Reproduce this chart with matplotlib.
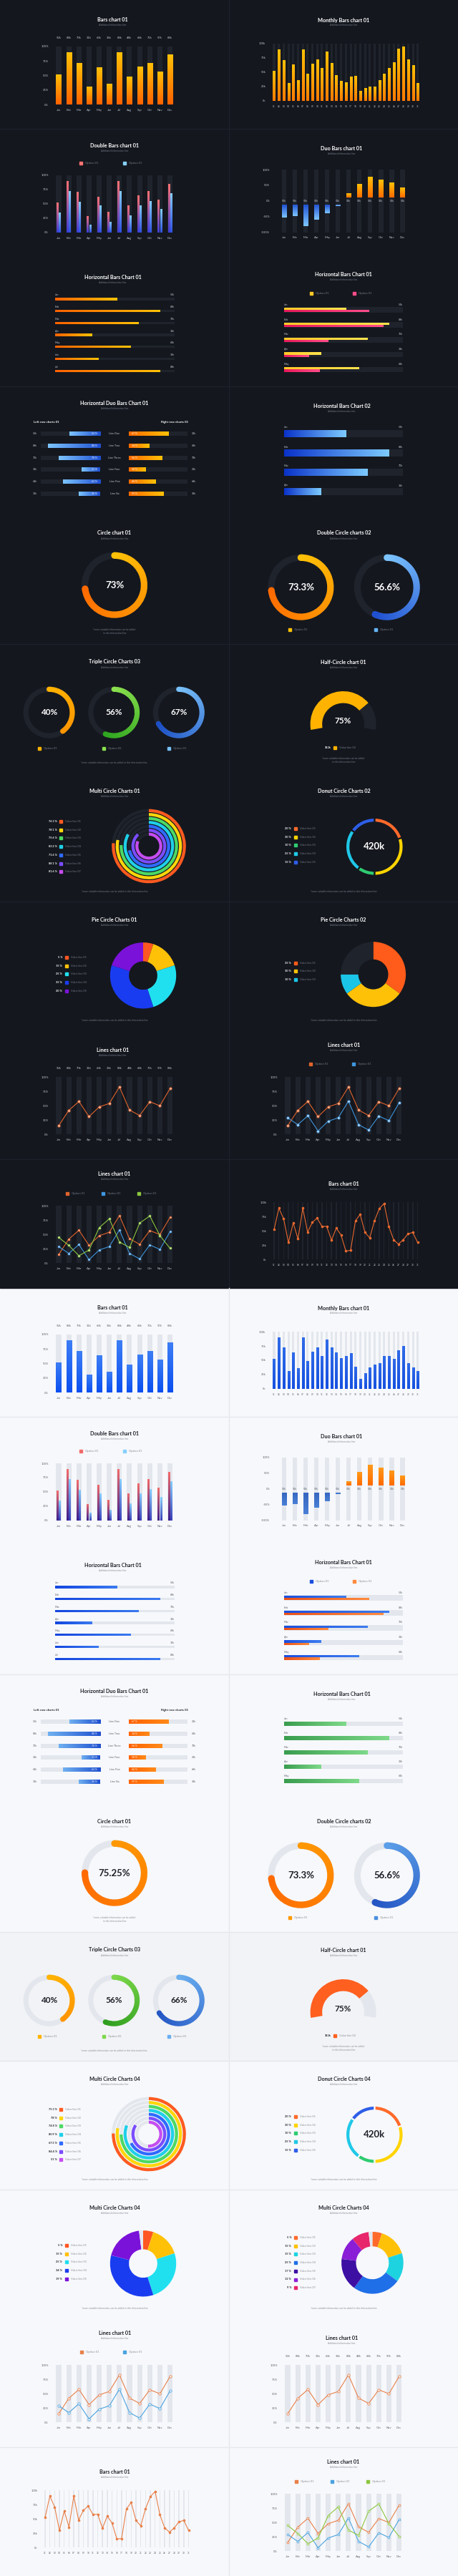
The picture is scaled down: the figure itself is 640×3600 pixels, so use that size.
import numpy as np
import matplotlib
matplotlib.use("Agg")
import matplotlib.pyplot as plt
from matplotlib.colors import LinearSegmentedColormap
from matplotlib.lines import Line2D
from matplotlib.patches import Rectangle, Circle

plt.rcParams["font.family"] = ["Lato", "DejaVu Sans"]

W, H = 640, 3600
fig = plt.figure(figsize=(W / 100, H / 100), dpi=100)

# ---------------- data ----------------
MONTHS = ["Jan", "Feb", "Mar", "Apr", "May", "Jun", "Jul", "Aug", "Sep", "Oct", "Nov", "Dec"]
DAYS = [f"{d:02d}" for d in range(1, 32)]
PCT_TICKS = [0, 25, 50, 75, 100]
PCT_LABELS = ["0%", "25%", "50%", "75%", "100%"]
K_LABELS = ["0k", "25k", "50k", "75k", "100k"]

BAR_VALUES = [52, 90, 71, 31, 64, 36, 90, 48, 65, 72, 57, 86]
BAR_LABELS = ["52k", "88k", "70k", "31k", "63k", "36k", "88k", "48k", "64k", "71k", "57k", "84k"]

MONTHLY_DARK = [52.5, 90, 71, 31, 64, 36, 90, 48, 65, 72.5, 58, 86, 66, 45, 35, 32, 43, 44,
                18, 22.5, 24.5, 25, 36, 48, 58, 67.5, 91, 95.5, 73, 62.5, 31]
MONTHLY_LIGHT = [52.5, 90, 72, 31, 64, 36, 90, 49, 65, 72.5, 58, 86, 72, 64, 54, 58, 63, 39,
                 18, 27, 38, 43, 45, 57, 58, 52, 68, 75, 45, 38, 31]

DOUBLE_A = [52, 90, 71, 29, 63, 36, 90, 48, 65, 72, 57, 85]
DOUBLE_B = [35, 73, 54, 14, 47, 19, 73, 30, 48, 55, 41, 69]

DUO_VALUES = [-52, -49, -81, -60, -38, -17, 25, 54, 78, 69, 59, 42]
DUO_LABEL = "52k"

HBAR_MONTHS = MONTHS[:7]
HBAR_VALUES = [52, 88, 70, 31, 63, 36, 88]
HBAR_LABELS = ["52k", "88k", "70k", "31k", "63k", "36k", "88k"]

HDOUBLE_A = [52, 88, 70, 31, 63]
HDOUBLE_B = [71, 83, 37, 21, 30]

HDUO_LINES = ["Line One", "Line Two", "Line Three", "Line Four", "Line Five", "Line Six"]
HDUO_LEFT = [52, 88, 70, 31, 63, 36]
HDUO_RIGHT = [67, 34, 56, 28, 46, 59]
HDUO_LEFT_LABELS = ["52k", "88k", "70k", "31k", "64k", "36k"]
HDUO_RIGHT_LABELS = ["22k", "68k", "78k", "21k", "69k", "38k"]

HBAR2_VALUES = [52, 88, 70, 31, 63]
HBAR2_LABELS = ["52k", "88k", "70k", "31k", "63k"]

CIRCLE_DARK = 73
CIRCLE_LIGHT = 75.25
DOUBLE_CIRCLE = [73.3, 56.6]
TRIPLE_DARK = [40, 56, 67]
TRIPLE_LIGHT = [40, 56, 66]
TRIPLE_NAMES = ["Option 01", "Option 02", "Option 01"]
HALF_VALUE = 75
HALF_LABEL = "352k"

MULTI_DARK = [76.3, 78.1, 75.6, 83.2, 71.6, 88.1, 81.6]
MULTI_LIGHT = [75.3, 78, 74.8, 80.9, 67.5, 84.4, 51]
DONUT_SHARES = [20, 30, 10, 25, 15]
DONUT_TOTAL = "420k"
PIE5_DARK = [5, 15, 25, 35, 20]
PIE5_LIGHT = [5, 15, 25, 34, 19]
PIE3 = [35, 30, 10]
PIE7 = [5, 15, 15, 25, 17, 12, 9]

LINE_A = [15, 42, 57.5, 31, 48, 54, 83, 42.5, 33, 57, 50, 80]
LINE_B = [29, 17, 32.5, 6, 23, 29, 58, 17, 7.5, 32, 24, 55]
LINE_C = [45, 31, 13, 23, 62, 77.5, 37, 27.5, 70, 82.5, 48, 26]
LINE31 = [52.5, 90, 71, 30, 64, 36, 90, 48, 65, 72.5, 58, 58, 34, 55, 43, 15, 16, 67.5, 79,
          47.5, 38, 68, 89, 98, 57.5, 34.5, 27, 34.5, 45, 47.5, 30]

SUBTITLE = "Additional information line"
FOOT = "*more valuable information can be added in this information line"
FOOT2 = "*more valuable information can be added\nin this information line"

# ---------------- themes ----------------
DARK = dict(bg="#14171e", track="#1f232c", title="#ffffff", sub="#737985", tick="#c3c7cf",
            rule="#1d2129")
LIGHT = dict(bg="#f7f8fb", track="#e3e7ed", title="#1d2028", sub="#8a8f98", tick="#5d626c",
             rule="#e6e8ee")

MULTI_COLORS = ["#ff5a1f", "#ffd60a", "#4cd964", "#1fd0e8", "#2f6bff", "#7a4dff", "#c64cf0"]
DONUT_COLORS = ["#ff6a2b", "#ffd400", "#2ecc71", "#1fc8e8", "#2d5ee8"]
PIE5_COLORS = ["#ff5722", "#ffc107", "#20e0f0", "#1a3cf0", "#7b12d9"]
PIE3_COLORS = ["#ff5b1a", "#ffc107", "#1bc5e8"]
PIE7_COLORS = ["#ff6a2b", "#ffc107", "#1dd3e0", "#1f6fe8", "#3d0fa3", "#8a1ed6", "#e8266b"]


def make_cmap(colors):
    return LinearSegmentedColormap.from_list("g", colors)


def px_axes(x, y, w, h, th):
    ax = fig.add_axes([x / W, 1 - (y + h) / H, w / W, h / H])
    ax.set_facecolor("none")
    for s in ax.spines.values():
        s.set_visible(False)
    ax.tick_params(length=0, labelsize=3, colors=th["tick"])
    return ax


def circ_axes(cx, cy, r, pad=1.1):
    s = 2 * r * pad
    ax = fig.add_axes([(cx - s / 2) / W, 1 - (cy + s / 2) / H, s / W, s / H])
    ax.set_axis_off()
    return ax


def finish_circ(ax, pad=1.1):
    ax.set_xlim(-pad, pad)
    ax.set_ylim(-pad, pad)
    ax.set_aspect("equal")


def text(x, y, s, size, color, **kw):
    kw.setdefault("ha", "center")
    kw.setdefault("va", "center")
    fig.text(x / W, 1 - y / H, s, fontsize=size, color=color, **kw)


def dot(x, y, color, ms=2.3):
    fig.add_artist(Line2D([x / W], [1 - y / H], marker="s", ms=ms, color=color, lw=0,
                          transform=fig.transFigure))


def header(x0, y0, th, title, cx, ty):
    text(x0 + cx, y0 + ty, title, 5.2, th["title"], weight="bold")
    text(x0 + cx, y0 + ty + 7.5, SUBTITLE, 2.3, th["sub"])


def legend_item(x, y, color, label, th):
    dot(x, y, color)
    text(x + 6, y, label, 3, th["sub"], ha="left")


def value_legend(x0, y0, th, top, texts, colors, vx=87, dx=93, lx=99):
    for i, (t, c) in enumerate(zip(texts, colors)):
        y = y0 + top + i * 11.7
        text(x0 + vx, y, t, 2.8, th["title"], ha="right", weight="bold")
        dot(x0 + dx, y, c)
        text(x0 + lx, y, f"Value line {i + 1:02d}", 2.8, th["sub"], ha="left")


def grad_patch(ax, patch, colors, horizontal=False):
    x, y = patch.get_x(), patch.get_y()
    w, h = patch.get_width(), patch.get_height()
    if w == 0 or h == 0:
        return
    x0, x1 = sorted((x, x + w))
    y0, y1 = sorted((y, y + h))
    ramp = np.linspace(0, 1, 64)
    img = ramp.reshape(1, -1) if horizontal else ramp.reshape(-1, 1)
    im = ax.imshow(img, cmap=make_cmap(colors), extent=(x0, x1, y0, y1), origin="lower",
                   aspect="auto", interpolation="bilinear", zorder=patch.get_zorder(),
                   vmin=0, vmax=1)
    im.set_clip_path(patch)
    patch.set_facecolor("none")


def conic(ax, patch, colors, frac, r=1.1):
    g = np.linspace(-r, r, 300)
    X, Y = np.meshgrid(g, g)
    ang = (90 - np.degrees(np.arctan2(Y, X))) % 360
    t = np.clip(ang / (360 * max(frac, 1e-3)), 0, 1)
    im = ax.imshow(t, cmap=make_cmap(colors), extent=(-r, r, -r, r), origin="lower",
                   interpolation="bilinear", vmin=0, vmax=1, zorder=3)
    im.set_clip_path(patch)


def ring(ax, value, colors, th, width=0.2, radius=1.0):
    ax.pie([100], radius=radius, colors=[th["track"]], startangle=90,
           wedgeprops=dict(width=width, linewidth=0))
    wedges, _ = ax.pie([value, 100 - value], radius=radius, colors=["none", "none"],
                       startangle=90, counterclock=False,
                       wedgeprops=dict(width=width, linewidth=0))
    conic(ax, wedges[0], colors, value / 100)
    # rounded ends of the arc
    mid = radius - width / 2
    for ang, c in ((90.0, colors[0]), (90 - 3.6 * value, colors[-1])):
        a = np.radians(ang)
        ax.add_patch(Circle((mid * np.cos(a), mid * np.sin(a)), width / 2, color=c,
                            lw=0, zorder=3.5))


# ---------------- bar panels ----------------
def bars_chart(x0, y0, th, values, labels, colors):
    header(x0, y0, th, "Bars chart 01", 157.5, 28)
    n = len(values)
    left, right = 82, 237.5
    step = (right - left) / (n - 1)
    ax = px_axes(x0 + left - step / 2, y0 + 65, right - left + step, 81, th)
    xs = np.arange(n)
    ax.bar(xs, np.full(n, 100), width=0.5, color=th["track"], zorder=1)
    for b in ax.bar(xs, values, width=0.5, zorder=2):
        grad_patch(ax, b, colors)
    ax.set_xticks(xs, MONTHS)
    ax.set_yticks(PCT_TICKS, PCT_LABELS)
    ax.tick_params(axis="x", pad=4)
    ax.tick_params(axis="y", pad=5)
    for i, lb in enumerate(labels):
        ax.annotate(lb, (i, 1), xycoords=("data", "axes fraction"), xytext=(0, 8.5),
                    textcoords="offset points", ha="center", va="center", fontsize=3,
                    color=th["tick"])
    ax.set_xlim(-0.5, n - 0.5)
    ax.set_ylim(0, 100)


def monthly_chart(x0, y0, th, values, colors):
    header(x0, y0, th, "Monthly Bars chart 01", 160, 28)
    n = len(values)
    left, right = 63, 263.7
    step = (right - left) / (n - 1)
    ax = px_axes(x0 + left - step / 2, y0 + 61, right - left + step, 80, th)
    xs = np.arange(n)
    ax.bar(xs, np.full(n, 100), width=0.45, color=th["track"], zorder=1)
    for b in ax.bar(xs, values, width=0.45, zorder=2):
        grad_patch(ax, b, colors)
    ax.set_xticks(xs, DAYS)
    ax.set_yticks(PCT_TICKS, K_LABELS)
    ax.tick_params(axis="x", pad=4, labelsize=2.3)
    ax.tick_params(axis="y", pad=6)
    ax.set_xlim(-0.5, n - 0.5)
    ax.set_ylim(0, 100)


def double_chart(x0, y0, th, colors_a, colors_b):
    header(x0, y0, th, "Double Bars chart 01", 160, 23)
    legend_item(x0 + 113, y0 + 48, colors_a[-1], "Option 01", th)
    legend_item(x0 + 174, y0 + 48, colors_b[-1], "Option 01", th)
    n = len(DOUBLE_A)
    left, right = 82, 237.5
    step = (right - left) / (n - 1)
    ax = px_axes(x0 + left - step / 2, y0 + 65, right - left + step, 80, th)
    xs = np.arange(n)
    ax.bar(xs, np.full(n, 100), width=0.5, color=th["track"], zorder=1)
    for b in ax.bar(xs - 0.11, DOUBLE_A, width=0.2, zorder=2):
        grad_patch(ax, b, colors_a)
    for b in ax.bar(xs + 0.11, DOUBLE_B, width=0.2, zorder=2):
        grad_patch(ax, b, colors_b)
    ax.set_xticks(xs, MONTHS)
    ax.set_yticks(PCT_TICKS, PCT_LABELS)
    ax.tick_params(axis="x", pad=4)
    ax.tick_params(axis="y", pad=5)
    ax.set_xlim(-0.5, n - 0.5)
    ax.set_ylim(0, 100)


def duo_chart(x0, y0, th, neg_colors, pos_colors):
    header(x0, y0, th, "Duo Bars chart 01", 157.6, 27)
    n = len(DUO_VALUES)
    left, right = 77.1, 242.4
    step = (right - left) / (n - 1)
    ax = px_axes(x0 + left - step / 2, y0 + 57, right - left + step, 87.7, th)
    xs = np.arange(n)
    ax.bar(xs, np.full(n, 200), bottom=-100, width=0.42, color=th["track"], zorder=1)
    gap = 12
    for x, v in zip(xs, DUO_VALUES):
        if v >= 0:
            b = ax.bar(x, v - gap, bottom=gap, width=0.42, zorder=2)[0]
            grad_patch(ax, b, pos_colors)
        else:
            b = ax.bar(x, v + gap, bottom=-gap, width=0.42, zorder=2)[0]
            grad_patch(ax, b, neg_colors)
        ax.text(x, 0, DUO_LABEL, ha="center", va="center", fontsize=2.6, color=th["tick"],
                zorder=4)
    ax.set_xticks(xs, MONTHS)
    ax.set_yticks([100, 50, 0, -50, -100], ["100%", "50%", "0%", "-50%", "-100%"])
    ax.tick_params(axis="x", pad=4)
    ax.tick_params(axis="y", pad=9)
    ax.set_xlim(-0.5, n - 0.5)
    ax.set_ylim(-100, 100)


def hbars_chart(x0, y0, th, colors):
    header(x0, y0, th, "Horizontal Bars Chart 01", 157.5, 27.7)
    n = len(HBAR_VALUES)
    step = 16.7
    ax = px_axes(x0 + 76.7, y0 + 58 - step / 2, 167, step * n, th)
    ys = np.arange(n)
    ax.barh(ys, np.full(n, 100), height=0.2, color=th["track"], zorder=1)
    for b in ax.barh(ys, HBAR_VALUES, height=0.2, zorder=2):
        grad_patch(ax, b, colors, horizontal=True)
    for i in ys:
        ax.text(0, i - 0.33, HBAR_MONTHS[i], ha="left", va="center", fontsize=2.7,
                color=th["tick"])
        ax.text(100, i - 0.33, HBAR_LABELS[i], ha="right", va="center", fontsize=2.7,
                color=th["tick"])
    ax.set_xticks([])
    ax.set_yticks([])
    ax.set_xlim(0, 100)
    ax.set_ylim(n - 0.5, -0.5)


def hbars_double(x0, y0, th, colors_a, colors_b):
    header(x0, y0, th, "Horizontal Bars Chart 01", 160.4, 23.7)
    legend_item(x0 + 115, y0 + 50, colors_a[0], "Option 01", th)
    legend_item(x0 + 175, y0 + 50, colors_b[-1], "Option 01", th)
    n = len(HDOUBLE_A)
    step = 20.8
    ax = px_axes(x0 + 76.7, y0 + 73.2 - step / 2, 166.3, step * n, th)
    ys = np.arange(n)
    ax.barh(ys, np.full(n, 100), height=0.36, color=th["track"], zorder=1)
    for b in ax.barh(ys - 0.075, HDOUBLE_A, height=0.15, zorder=2):
        grad_patch(ax, b, colors_a, horizontal=True)
    for b in ax.barh(ys + 0.075, HDOUBLE_B, height=0.15, zorder=2):
        grad_patch(ax, b, colors_b, horizontal=True)
    for i in ys:
        ax.text(0, i - 0.36, HBAR_MONTHS[i], ha="left", va="center", fontsize=2.7,
                color=th["tick"])
        ax.text(100, i - 0.36, HBAR_LABELS[i], ha="right", va="center", fontsize=2.7,
                color=th["tick"])
    ax.set_xticks([])
    ax.set_yticks([])
    ax.set_xlim(0, 100)
    ax.set_ylim(n - 0.5, -0.5)


def hduo_chart(x0, y0, th, left_colors, right_colors):
    header(x0, y0, th, "Horizontal Duo Bars Chart 01", 160, 23.3)
    text(x0 + 47, y0 + 50, "Left row charts 01", 3.2, th["title"], ha="left", weight="bold")
    text(x0 + 225, y0 + 50, "Right row charts 01", 3.2, th["title"], ha="left", weight="bold")
    n = len(HDUO_LEFT)
    step = 16.7
    top = 66.3
    ys = np.arange(n)
    axl = px_axes(x0 + 57, y0 + top - step / 2, 83, step * n, th)
    axl.barh(ys, np.full(n, 100), height=0.36, color=th["track"], zorder=1)
    for b in axl.barh(ys, HDUO_LEFT, height=0.36, zorder=2):
        grad_patch(axl, b, left_colors, horizontal=True)
    axr = px_axes(x0 + 180, y0 + top - step / 2, 82.4, step * n, th)
    axr.barh(ys, np.full(n, 100), height=0.36, color=th["track"], zorder=1)
    for b in axr.barh(ys, HDUO_RIGHT, height=0.36, zorder=2):
        grad_patch(axr, b, right_colors, horizontal=True)
    for i in ys:
        axl.text(5, i, f"{HDUO_LEFT[i]} %", ha="right", va="center", fontsize=2.5,
                 color="white", zorder=5)
        axr.text(5, i, f"{HDUO_RIGHT[i]} %", ha="left", va="center", fontsize=2.5,
                 color="white", zorder=5)
        y = y0 + top + i * step
        text(x0 + 49, y, HDUO_LEFT_LABELS[i], 2.7, th["tick"])
        text(x0 + 160, y, HDUO_LINES[i], 2.7, th["tick"])
        text(x0 + 270.6, y, HDUO_RIGHT_LABELS[i], 2.7, th["tick"])
    for a in (axl, axr):
        a.set_xticks([])
        a.set_yticks([])
        a.set_ylim(n - 0.5, -0.5)
    axl.set_xlim(100, 0)
    axr.set_xlim(0, 100)


def hbars_thick(x0, y0, th, values, colors, title, top, step, bar_px):
    header(x0, y0, th, title, 157.6, 27.7)
    n = len(values)
    ax = px_axes(x0 + 76.7, y0 + top - step / 2, 166.3, step * n, th)
    ys = np.arange(n)
    hgt = bar_px / step
    ax.barh(ys, np.full(n, 100), height=hgt, color=th["track"], zorder=1)
    for b in ax.barh(ys, values, height=hgt, zorder=2):
        grad_patch(ax, b, colors, horizontal=True)
    off = (bar_px / 2 + 3.5) / step
    for i in ys:
        ax.text(0, i - off, MONTHS[i], ha="left", va="center", fontsize=2.7, color=th["tick"])
        ax.text(100, i - off, HBAR2_LABELS[i], ha="right", va="center", fontsize=2.7,
                color=th["tick"])
    ax.set_xticks([])
    ax.set_yticks([])
    ax.set_xlim(0, 100)
    ax.set_ylim(n - 0.5, -0.5)


# ---------------- circle panels ----------------
def circle_panel(x0, y0, th, value, label, colors):
    header(x0, y0, th, "Circle chart 01", 160, 25)
    ax = circ_axes(x0 + 160, y0 + 97.7, 46)
    ring(ax, value, colors, th, width=0.2)
    ax.text(0, 0, label, ha="center", va="center", fontsize=9.5, color=th["title"],
            weight="bold")
    finish_circ(ax)
    text(x0 + 160, y0 + 162.5, FOOT2, 2.3, th["sub"], linespacing=1.5)


def double_circle(x0, y0, th, colors_list, legend_colors):
    header(x0, y0, th, "Double Circle charts 02", 160.4, 25)
    for cx, v, cols, lc in zip([100.4, 220.8], DOUBLE_CIRCLE, colors_list, legend_colors):
        ax = circ_axes(x0 + cx, y0 + 100.7, 46)
        ring(ax, v, cols, th, width=0.2)
        ax.text(0, 0, f"{v}%", ha="center", va="center", fontsize=9.5, color=th["title"],
                weight="bold")
        finish_circ(ax)
        legend_item(x0 + cx - 15.5, y0 + 160, lc, "Option 01", th)


def triple_circle(x0, y0, th, values, colors_list):
    header(x0, y0, th, "Triple Circle Charts 03", 160, 25)
    for cx, v, cols, name in zip([68.6, 159.2, 249.8], values, colors_list, TRIPLE_NAMES):
        ax = circ_axes(x0 + cx, y0 + 95.7, 36)
        ring(ax, v, cols, th, width=0.2)
        ax.text(0, 0, f"{v}%", ha="center", va="center", fontsize=8.5, color=th["title"],
                weight="bold")
        finish_circ(ax)
        legend_item(x0 + cx - 14, y0 + 145.7, cols[0], name, th)
    text(x0 + 159, y0 + 165.7, FOOT, 2.3, th["sub"])


def half_circle(x0, y0, th, color):
    header(x0, y0, th, "Half-Circle chart 01", 160, 25)
    span = 200
    ax = circ_axes(x0 + 159.6, y0 + 112, 46)
    gap = 100 * (360 - span) / span
    wedges, _ = ax.pie([HALF_VALUE, 100 - HALF_VALUE, gap],
                       colors=[color, th["track"], th["bg"]],
                       startangle=90 + span / 2, counterclock=False,
                       wedgeprops=dict(width=0.36, linewidth=0))
    wedges[2].set_visible(False)
    ax.text(0, 0.1, f"{HALF_VALUE}%", ha="center", va="center", fontsize=8.5,
            color=th["title"], weight="bold")
    finish_circ(ax)
    text(x0 + 143, y0 + 145, HALF_LABEL, 2.8, th["title"], ha="right", weight="bold")
    legend_item(x0 + 148.2, y0 + 145, color, "Value line 02", th)
    text(x0 + 160, y0 + 162.5, FOOT2, 2.3, th["sub"], linespacing=1.5)


def multi_chart(x0, y0, th, values, title):
    header(x0, y0, th, title, 160, 25)
    ax = circ_axes(x0 + 208, y0 + 102.5, 51.8)
    radii = 1 - np.arange(len(values)) * 0.106
    for r, v, c in zip(radii, values, MULTI_COLORS):
        ax.pie([100], radius=r, colors=[th["track"]], startangle=90,
               wedgeprops=dict(width=0.082, linewidth=0))
        ax.pie([v, 100 - v], radius=r, colors=[c, "none"], startangle=90, counterclock=False,
               wedgeprops=dict(width=0.082, linewidth=0))
    finish_circ(ax)
    value_legend(x0, y0, th, 68, [f"{v} %" for v in values], MULTI_COLORS,
                 vx=79.6, dx=84.5, lx=90.6)
    text(x0 + 160, y0 + 166, FOOT, 2.3, th["sub"])


def donut_chart(x0, y0, th, title):
    header(x0, y0, th, title, 160.4, 25)
    ax = circ_axes(x0 + 203.3, y0 + 103.3, 40.4)
    ax.pie(DONUT_SHARES, colors=DONUT_COLORS, startangle=90, counterclock=False,
           wedgeprops=dict(width=0.16, edgecolor=th["bg"], linewidth=1.6))
    ax.text(0, 0, DONUT_TOTAL, ha="center", va="center", fontsize=9.5, color=th["title"],
            weight="bold")
    finish_circ(ax)
    value_legend(x0, y0, th, 78, [f"{v} %" for v in DONUT_SHARES], DONUT_COLORS)
    text(x0 + 160, y0 + 166, FOOT, 2.3, th["sub"])


def pie_chart(x0, y0, th, values, colors, title, cx, cy, r, width, legend_top, fill_rest):
    header(x0, y0, th, title, 160.2, 25)
    ax = circ_axes(x0 + cx, y0 + cy, r)
    rest = 100 - sum(values)
    vals = list(values) + ([rest] if rest > 0 and fill_rest else [])
    cols = list(colors) + ([th["track"]] if rest > 0 and fill_rest else [])
    ax.pie(vals, colors=cols, startangle=90, counterclock=False,
           wedgeprops=dict(width=width, linewidth=0))
    finish_circ(ax)
    value_legend(x0, y0, th, legend_top, [f"{v} %" for v in values], colors)
    text(x0 + 160, y0 + 166, FOOT, 2.3, th["sub"])


# ---------------- line panels ----------------
def line_frame(x0, y0, th, top, left, right, labels, ylabels, track_w):
    n = len(labels)
    step = (right - left) / (n - 1)
    ax = px_axes(x0 + left - step / 2, y0 + top, right - left + step, 80, th)
    xs = np.arange(n)
    ax.bar(xs, np.full(n, 104), bottom=-2, width=track_w, color=th["track"], zorder=1)
    ax.set_xticks(xs, labels)
    ax.set_yticks(PCT_TICKS, ylabels)
    ax.tick_params(axis="x", pad=4)
    ax.tick_params(axis="y", pad=5)
    ax.set_xlim(-0.5, n - 0.5)
    ax.set_ylim(0, 100)
    return ax, xs


def draw_line(ax, xs, vals, color, fill, ms=2.4):
    ax.plot(xs, vals, color=color, lw=0.8, marker="o", ms=ms, mfc=fill, mec=color, mew=0.6,
            zorder=3, clip_on=False)


def line_single(x0, y0, th, color, fill):
    header(x0, y0, th, "Lines chart 01", 157.5, 27.7)
    ax, xs = line_frame(x0, y0, th, 65.3, 82, 237.6, MONTHS, PCT_LABELS, 0.5)
    draw_line(ax, xs, LINE_A, color, fill)
    for i, lb in enumerate(BAR_LABELS):
        ax.annotate(lb, (i, 1), xycoords=("data", "axes fraction"), xytext=(0, 8.5),
                    textcoords="offset points", ha="center", va="center", fontsize=3,
                    color=th["tick"])


def line_double(x0, y0, th, colors, fills):
    header(x0, y0, th, "Lines chart 01", 160.4, 20.7)
    legend_item(x0 + 113.5, y0 + 47.3, colors[0], "Option 01", th)
    legend_item(x0 + 174, y0 + 47.3, colors[1], "Option 01", th)
    ax, xs = line_frame(x0, y0, th, 65.3, 82, 237.6, MONTHS, PCT_LABELS, 0.5)
    draw_line(ax, xs, LINE_A, colors[0], fills[0])
    draw_line(ax, xs, LINE_B, colors[1], fills[1])


def line_triple(x0, y0, th, colors, fills):
    header(x0, y0, th, "Lines chart 01", 160, 20.7)
    for lx, c in zip([93.5, 143.7, 193.5], colors):
        legend_item(x0 + lx, y0 + 47.7, c, "Option 01", th)
    ax, xs = line_frame(x0, y0, th, 65.3, 82, 237.6, MONTHS, PCT_LABELS, 0.5)
    draw_line(ax, xs, LINE_A, colors[0], fills[0], ms=2)
    draw_line(ax, xs, LINE_B, colors[1], fills[1], ms=2)
    draw_line(ax, xs, LINE_C, colors[2], fills[2], ms=2)


def line31(x0, y0, th, color):
    header(x0, y0, th, "Bars chart 01", 160.4, 34.7)
    ax, xs = line_frame(x0, y0, th, 60.3, 63, 263.5, DAYS, K_LABELS, 0.22)
    ax.tick_params(axis="x", labelsize=2.3)
    ax.plot(xs, LINE31, color=color, lw=0.8, marker="o", ms=1.6, mfc=color, mec=color,
            zorder=3)


# ---------------- background ----------------
fig.patch.set_facecolor(LIGHT["bg"])
fig.add_artist(Rectangle((0, 0.5), 1, 0.5, transform=fig.transFigure, color=DARK["bg"],
                         zorder=-10))
fig.add_artist(Rectangle((0, 1 - 2880 / H), 1, 180 / H, transform=fig.transFigure,
                         color="#f2f3f6", zorder=-9))
for y in [180, 540, 900, 1260, 1620]:
    fig.add_artist(Line2D([0, 1], [1 - y / H] * 2, color=DARK["rule"], lw=1,
                          transform=fig.transFigure))
for y in [1980, 2340, 2700, 2880, 3060, 3420]:
    fig.add_artist(Line2D([0, 1], [1 - y / H] * 2, color=LIGHT["rule"], lw=1,
                          transform=fig.transFigure))
fig.add_artist(Line2D([0.5, 0.5], [0.5, 1], color=DARK["rule"], lw=1, transform=fig.transFigure))
fig.add_artist(Line2D([0.5, 0.5], [0, 0.5], color=LIGHT["rule"], lw=1, transform=fig.transFigure))

# ---------------- dark half ----------------
D = DARK
bars_chart(0, 0, D, BAR_VALUES, BAR_LABELS, ["#ff6200", "#ffc107"])
monthly_chart(320, 0, D, MONTHLY_DARK, ["#ff7a00", "#ffc107"])
double_chart(0, 180, D, ["#3b3fd6", "#ff7272"], ["#2f52e0", "#86d0ff"])
duo_chart(320, 180, D, ["#7ec6ff", "#1f4fd1"], ["#ff6a00", "#ffc107"])
hbars_chart(0, 360, D, ["#ff6200", "#ffc107"])
hbars_double(320, 360, D, ["#ffc928", "#ffe44d"], ["#e8195a", "#ff4d8a"])
hduo_chart(0, 540, D, ["#1f50d0", "#7cc4ff"], ["#ff6a00", "#ffc107"])
hbars_thick(320, 540, D, HBAR2_VALUES[:4], ["#0a33c9", "#7ccaff"],
            "Horizontal Bars Chart 02", 66, 27, 10)
circle_panel(0, 720, D, CIRCLE_DARK, "73%", ["#ffc107", "#ff6a00"])
double_circle(320, 720, D, [["#ffc107", "#ff6a00"], ["#7cc4ff", "#1f50d0"]],
              ["#ffc107", "#64b5f6"])
triple_circle(0, 900, D, TRIPLE_DARK,
              [["#ffb300", "#ff9500"], ["#8be04e", "#2fa61f"], ["#78c0f8", "#1c4fc4"]])
half_circle(320, 900, D, "#ffb300")
multi_chart(0, 1080, D, MULTI_DARK, "Multi Circle Charts 01")
donut_chart(320, 1080, D, "Donut Circle Charts 02")
pie_chart(0, 1260, D, PIE5_DARK, PIE5_COLORS, "Pie Circle Charts 01", 200, 103.3, 46.2, 0.57,
          78, False)
pie_chart(320, 1260, D, PIE3, PIE3_COLORS, "Pie Circle Charts 02", 201.6, 101.7, 45.5, 0.54,
          85.7, True)
line_single(0, 1440, D, "#e0642c", "#f6c7b0")
line_double(320, 1440, D, ["#e0642c", "#3f95dc"], ["#f6c7b0", "#cfe6fa"])
line_triple(0, 1620, D, ["#e0642c", "#3f95dc", "#8cc63f"], ["#f6c7b0", "#cfe6fa", "#e3f3c8"])
line31(320, 1620, D, "#e8692f")

# ---------------- light half ----------------
L = LIGHT
bars_chart(0, 1800, L, BAR_VALUES, BAR_LABELS, ["#0a4ff0", "#3d7ef5"])
monthly_chart(320, 1800, L, MONTHLY_LIGHT, ["#1550e0", "#2f6ae8"])
double_chart(0, 1980, L, ["#3a1f8f", "#f26b6b"], ["#3a3fb8", "#86d0ff"])
duo_chart(320, 1980, L, ["#4a80d6", "#3565c0"], ["#ff6a00", "#ff9a1a"])
hbars_chart(0, 2160, L, ["#1446e0", "#3a7af0"])
hbars_double(320, 2160, L, ["#1a4fe0", "#3d7cf0"], ["#e8501a", "#ff8a3d"])
hduo_chart(0, 2340, L, ["#1f50d0", "#6fb0f0"], ["#ff6200", "#ff8a1a"])
hbars_thick(320, 2340, L, HBAR2_VALUES, ["#3a9d4f", "#7ed98a"],
            "Horizontal Bars Chart 01", 69, 20, 6.5)
circle_panel(0, 2520, L, CIRCLE_LIGHT, "75.25%", ["#ff9800", "#ff6a00"])
double_circle(320, 2520, L, [["#ff9800", "#ff6a00"], ["#5b9ee8", "#2456c4"]],
              ["#ff9800", "#4a8fe0"])
triple_circle(0, 2700, L, TRIPLE_LIGHT,
              [["#ffb300", "#ff9500"], ["#7cd84a", "#2f9e1f"], ["#6aaef0", "#2456c4"]])
half_circle(320, 2700, L, "#ff5f1f")
multi_chart(0, 2880, L, MULTI_LIGHT, "Multi Circle Charts 04")
donut_chart(320, 2880, L, "Donut Circle Charts 04")
pie_chart(0, 3060, L, PIE5_LIGHT, PIE5_COLORS, "Multi Circle Charts 04", 200, 103.3, 46.2, 0.57,
          78, True)
pie_chart(320, 3060, L, PIE7, PIE7_COLORS, "Multi Circle Charts 04", 200.4, 102.3, 43.3, 0.47,
          67, True)
line_double(0, 3240, L, ["#e8804a", "#4aa3e0"], ["white", "white"])
line_single(320, 3240, L, "#e8804a", "white")
line31(0, 3420, L, "#e8804a")
line_triple(320, 3420, L, ["#e8804a", "#4aa3e0", "#8cc63f"], ["white", "white", "white"])

fig.savefig("out.png", dpi=100, facecolor=fig.get_facecolor())
